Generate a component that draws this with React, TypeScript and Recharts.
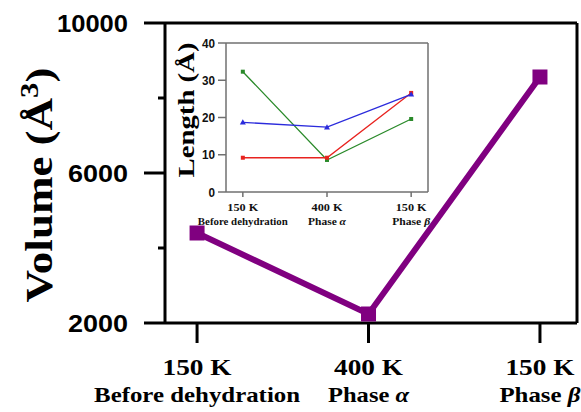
import React from 'react';
import { LineChart, Line, XAxis, YAxis, ReferenceLine } from 'recharts';

// categories shared by both panels
const categories = ['150 K', '400 K', '150 K'];
const phaseNames = ['Before dehydration', 'Phase ', 'Phase '];
const phaseSymbols = ['', 'α', 'β'];

// main panel: cell volume
const volumeTicks = [2000, 4000, 6000, 8000, 10000];
const volumeLabelled = [2000, 6000, 10000];
const volume = [4400, 2240, 8560];

// inset: lattice lengths
const lengthTicks = [0, 5, 10, 15, 20, 25, 30, 35, 40];
const lengthLabelled = [0, 10, 20, 30, 40];
const lengthGreen = [32.3, 8.6, 19.6];
const lengthBlue = [18.7, 17.4, 26.2];
const lengthRed = [9.2, 9.2, 26.6];

const mainData = volume.map((v, i) => ({ x: i, volume: v }));
const insetData = categories.map((_, i) => ({
    x: i,
    green: lengthGreen[i],
    blue: lengthBlue[i],
    red: lengthRed[i],
}));

const SERIF = 'Liberation Serif, Times New Roman, serif';
const SANS = 'Liberation Sans, Arial, sans-serif';
const PURPLE = '#800080';
const INSET_AXIS = '#707070';

const MAIN_LEFT = 165;
const MAIN_BOTTOM = 323;
const INSET_LEFT = 66;

function VolumeTick({ y, payload }: any) {
    const major = volumeLabelled.includes(payload.value);
    const label = String(payload.value);
    return (
        <g>
            <line x1={MAIN_LEFT - (major ? 21 : 7)} x2={MAIN_LEFT} y1={y} y2={y} stroke="#000" strokeWidth={3} />
            {major && (
                <text
                    x={128}
                    y={y + 8.5}
                    textAnchor="end"
                    style={{ fontFamily: SANS }}
                    fontWeight="bold"
                    fontSize={24}
                    textLength={label.length === 5 ? 71 : 60}
                    lengthAdjust="spacingAndGlyphs"
                    fill="#000"
                >
                    {label}
                </text>
            )}
        </g>
    );
}

function CategoryTick({ x, payload }: any) {
    const i = payload.value as number;
    return (
        <g>
            <line x1={x} x2={x} y1={MAIN_BOTTOM} y2={343} stroke="#000" strokeWidth={3} />
            <text
                x={x}
                y={375}
                textAnchor="middle"
                style={{ fontFamily: SERIF }}
                fontWeight="bold"
                fontSize={23}
                textLength={69}
                lengthAdjust="spacingAndGlyphs"
                fill="#000"
            >
                {categories[i]}
            </text>
            <text
                x={x}
                y={402}
                textAnchor="middle"
                style={{ fontFamily: SERIF }}
                fontWeight="bold"
                fontSize={22}
                textLength={i === 0 ? 206 : 81}
                lengthAdjust="spacingAndGlyphs"
                fill="#000"
            >
                {phaseNames[i]}
                {phaseSymbols[i] && <tspan fontStyle="italic">{phaseSymbols[i]}</tspan>}
            </text>
        </g>
    );
}

function VolumeLabel() {
    return (
        <text
            transform="translate(52,185) rotate(-90)"
            textAnchor="middle"
            style={{ fontFamily: SERIF }}
            fontWeight="bold"
            fontSize={38}
            textLength={235}
            lengthAdjust="spacingAndGlyphs"
            fill="#000"
        >
            Volume (Å<tspan dy={-14} fontSize={26}>3</tspan>
            <tspan dy={14}>)</tspan>
        </text>
    );
}

function LengthTick({ y, payload }: any) {
    const major = lengthLabelled.includes(payload.value);
    const label = String(payload.value);
    return (
        <g>
            <line x1={INSET_LEFT - (major ? 8 : 4)} x2={INSET_LEFT} y1={y} y2={y} stroke={INSET_AXIS} strokeWidth={1.5} />
            {major && (
                <text
                    x={55}
                    y={y + 4.5}
                    textAnchor="end"
                    style={{ fontFamily: SANS }}
                    fontWeight="bold"
                    fontSize={12}
                    textLength={label.length * 6.5}
                    lengthAdjust="spacingAndGlyphs"
                    fill="#111"
                >
                    {label}
                </text>
            )}
        </g>
    );
}

function InsetCategoryTick({ x, payload }: any) {
    const i = payload.value as number;
    return (
        <g>
            <line x1={x} x2={x} y1={162} y2={167} stroke={INSET_AXIS} strokeWidth={1.5} />
            <text
                x={x}
                y={181}
                textAnchor="middle"
                style={{ fontFamily: SERIF }}
                fontWeight="bold"
                fontSize={10.5}
                textLength={31}
                lengthAdjust="spacingAndGlyphs"
                fill="#111"
            >
                {categories[i]}
            </text>
            <text
                x={x}
                y={195}
                textAnchor="middle"
                style={{ fontFamily: SERIF }}
                fontWeight="bold"
                fontSize={9.5}
                textLength={i === 0 ? 90 : 38}
                lengthAdjust="spacingAndGlyphs"
                fill="#111"
            >
                {phaseNames[i]}
                {phaseSymbols[i] && <tspan fontStyle="italic">{phaseSymbols[i]}</tspan>}
            </text>
        </g>
    );
}

function LengthLabel() {
    return (
        <text
            transform="translate(34,80) rotate(-90)"
            textAnchor="middle"
            style={{ fontFamily: SERIF }}
            fontWeight="bold"
            fontSize={24}
            textLength={135}
            lengthAdjust="spacingAndGlyphs"
            fill="#000"
        >
            Length (Å)
        </text>
    );
}

function SquareDot({ cx, cy, size, fill }: any) {
    if (cx == null || cy == null) return null;
    return <rect x={cx - size / 2} y={cy - size / 2} width={size} height={size} fill={fill} />;
}

function TriangleDot({ cx, cy, fill }: any) {
    if (cx == null || cy == null) return null;
    return <path d={`M${cx},${cy - 3} L${cx + 3},${cy + 2.2} L${cx - 3},${cy + 2.2} Z`} fill={fill} />;
}

export default function App() {
    return (
        <div style={{ position: 'absolute', left: 0, top: 0, width: 581, height: 412, background: '#fff' }}>
            <LineChart width={581} height={412} data={mainData} margin={{ top: 23, right: 4, bottom: 0, left: 0 }}>
                <XAxis
                    dataKey="x"
                    type="number"
                    domain={[-0.187, 2.216]}
                    ticks={[0, 1, 2]}
                    height={89}
                    axisLine={{ stroke: '#000', strokeWidth: 3 }}
                    tickLine={false}
                    tick={<CategoryTick />}
                />
                <YAxis
                    type="number"
                    domain={[2000, 10000]}
                    ticks={volumeTicks}
                    width={165}
                    axisLine={{ stroke: '#000', strokeWidth: 3 }}
                    tickLine={false}
                    tick={<VolumeTick />}
                    label={<VolumeLabel />}
                />
                <ReferenceLine y={10000} stroke="#000" strokeWidth={3} />
                <ReferenceLine x={2.216} stroke="#000" strokeWidth={3} />
                <Line
                    dataKey="volume"
                    stroke={PURPLE}
                    strokeWidth={6}
                    dot={<SquareDot size={15} fill={PURPLE} />}
                    activeDot={false}
                    isAnimationActive={false}
                />
            </LineChart>
            <div style={{ position: 'absolute', left: 160, top: 30 }}>
                <LineChart width={280} height={205} data={insetData} margin={{ top: 13, right: 12, bottom: 0, left: 0 }}>
                    <XAxis
                        dataKey="x"
                        type="number"
                        domain={[-0.2, 2.2]}
                        ticks={[0, 1, 2]}
                        height={43}
                        axisLine={{ stroke: INSET_AXIS, strokeWidth: 1.5 }}
                        tickLine={false}
                        tick={<InsetCategoryTick />}
                    />
                    <YAxis
                        type="number"
                        domain={[0, 40]}
                        ticks={lengthTicks}
                        width={INSET_LEFT}
                        axisLine={{ stroke: INSET_AXIS, strokeWidth: 1.5 }}
                        tickLine={false}
                        tick={<LengthTick />}
                        label={<LengthLabel />}
                    />
                    <ReferenceLine y={40} stroke={INSET_AXIS} strokeWidth={1.5} />
                    <ReferenceLine x={2.2} stroke={INSET_AXIS} strokeWidth={1.5} />
                    <Line
                        dataKey="green"
                        stroke="#2a8a2a"
                        strokeWidth={1.3}
                        dot={<SquareDot size={4} fill="#2a8a2a" />}
                        activeDot={false}
                        isAnimationActive={false}
                    />
                    <Line
                        dataKey="red"
                        stroke="#e8231f"
                        strokeWidth={1.3}
                        dot={<SquareDot size={4} fill="#e8231f" />}
                        activeDot={false}
                        isAnimationActive={false}
                    />
                    <Line
                        dataKey="blue"
                        stroke="#2b2bdc"
                        strokeWidth={1.3}
                        dot={<TriangleDot fill="#2b2bdc" />}
                        activeDot={false}
                        isAnimationActive={false}
                    />
                </LineChart>
            </div>
        </div>
    );
}
